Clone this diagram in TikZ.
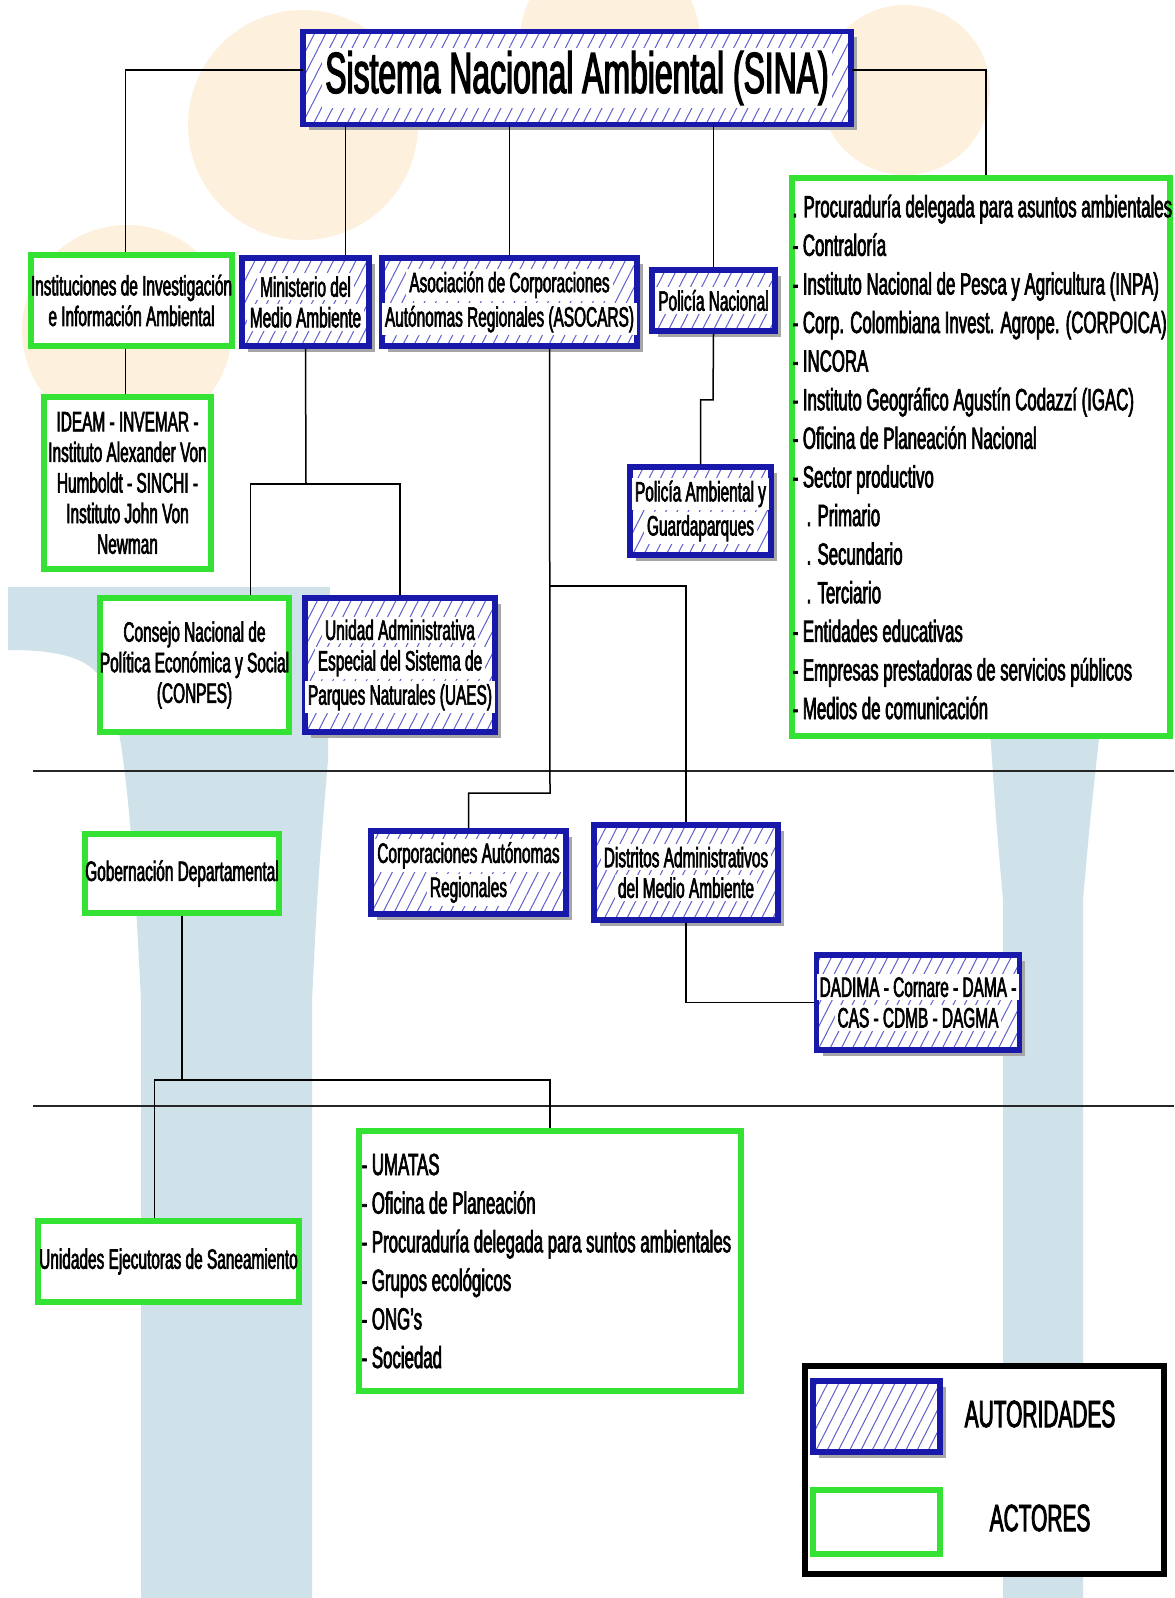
\documentclass[tikz,border=0pt]{standalone}
\usepackage{fontspec}
\setmainfont{Liberation Sans}[FakeStretch=0.55, FakeBold=2.2]
\usetikzlibrary{patterns.meta,shadows}
\definecolor{authblue}{RGB}{24,24,170}
\definecolor{hatchblue}{RGB}{95,95,205}
\definecolor{actgreen}{RGB}{52,226,52}
\definecolor{wmorange}{RGB}{253,241,222}
\definecolor{wmblue}{RGB}{207,226,234}
\newcommand{\wl}[1]{{\setlength{\fboxsep}{1.5pt}\colorbox{white}{#1}}}
\newcommand{\boxfont}{\fontsize{14pt}{15.3pt}\selectfont}
\newcommand{\listfont}{\fontsize{15.3pt}{19.3pt}\selectfont}
\newcommand{\titlefont}{\fontsize{29pt}{30pt}\selectfont}
\newcommand{\legfont}{\fontsize{19pt}{20pt}\selectfont}

\begin{document}
\begin{tikzpicture}[x=0.5pt, y=-0.5pt,
    auth/.style 2 args={draw=authblue, line width=2.8pt, minimum width=#1*0.5pt, minimum height=#2*0.5pt,
      inner sep=0pt, align=center, font=\boxfont,
      drop shadow={shadow xshift=3pt, shadow yshift=-3pt, fill=gray!70, opacity=1},
      preaction={fill=white}, pattern={Lines[angle=63, distance=5pt, line width=0.5pt]}, pattern color=hatchblue},
    actor/.style 2 args={draw=actgreen, line width=2.8pt, fill=white, minimum width=#1*0.5pt, minimum height=#2*0.5pt,
      inner sep=0pt, align=center, font=\boxfont},
    listtext/.style={font=\listfont, align=left, anchor=west, inner sep=0pt},
    link/.style={line width=0.75pt},
    sepline/.style={line width=1.2pt, black!85}]
  \useasboundingbox[fill=white] (0,0) rectangle (1174,1598);

  % watermark
  \fill[wmorange] (303,125) circle (115);
  \fill[wmorange] (127,330) circle (105);
  \fill[wmorange] (610,40) circle (90);
  \fill[wmorange] (905,90) circle (85);
  \fill[wmblue] (8,587) -- (330,587) -- (328,760) .. controls (318,880) .. (312,1000) -- (312,1598) -- (141,1598)
    -- (141,1000) .. controls (134,860) and (125,700) .. (100,677) .. controls (85,655) and (50,650) .. (8,650) -- cycle;
  \fill[wmblue] (990,730) -- (1100,730) .. controls (1090,820) .. (1083,900) -- (1083,1598) -- (1003,1598)
    -- (1003,900) .. controls (996,820) .. (990,730) -- cycle;

  \draw[sepline] (33,771) -- (1174,771);
  \draw[sepline] (33,1106) -- (1174,1106);

  \node[auth={548}{93}, font=\titlefont] (sina) at (577,78) {\wl{Sistema Nacional Ambiental (SINA)}};
  \node[actor={195}{91}] (inst) at (131.5,300.5) {Instituciones de Investigación\\e Información Ambiental};
  \node[auth={127}{88}] (min) at (305.5,302) {\wl{Ministerio del}\\\wl{Medio Ambiente}};
  \node[auth={249}{88}] (aso) at (509.5,302) {\wl{Asociación de Corporaciones}\\\wl{Autónomas Regionales (ASOCARS)}};
  \node[auth={123}{61}] (pnac) at (713.5,300.5) {\wl{Policía Nacional}};
  \node[actor={378}{558}] (acts) at (981,457) {};
  \node[listtext] (acts-t) at ([xshift=1.5pt]acts.west) {. Procuraduría delegada para asuntos ambientales\\
    - Contraloría\\- Instituto Nacional de Pesca y Agricultura (INPA)\\- Corp. Colombiana Invest. Agrope. (CORPOICA)\\
    - INCORA\\- Instituto Geográfico Agustín Codazzí (IGAC)\\- Oficina de Planeación Nacional\\- Sector productivo\\
    \hspace{7pt}. Primario\\\hspace{7pt}. Secundario\\\hspace{7pt}. Terciario\\- Entidades educativas\\
    - Empresas prestadoras de servicios públicos\\- Medios de comunicación};
  \node[actor={167}{172}] (ideam) at (127.5,483) {IDEAM - INVEMAR -\\Instituto Alexander Von\\Humboldt - SINCHI -\\Instituto John Von\\Newman};
  \node[actor={181}{134}] (conpes) at (194.5,665) {Consejo Nacional de\\Política Económica y Social\\(CONPES)};
  \node[auth={180}{134}] (uaes) at (400,665) {\wl{Unidad Administrativa}\\\wl{Especial del Sistema de}\\\wl{Parques Naturales (UAES)}};
  \node[auth={141}{88}] (pamb) at (700.5,511) {\wl{Policía Ambiental y}\\\wl{Guardaparques}};

  \node[actor={186}{79}] (gob) at (182,873.5) {Gobernación Departamental};
  \node[auth={195}{83}] (corp) at (468.5,872.5) {\wl{Corporaciones Autónomas}\\\wl{Regionales}};
  \node[auth={184}{95}] (dist) at (686,872.5) {\wl{Distritos Administrativos}\\\wl{del Medio Ambiente}};
  \node[auth={182}{95}] (dadima) at (918,1002.5) {\wl{DADIMA - Cornare - DAMA -}\\\wl{CAS - CDMB - DAGMA}};

  \node[actor={261}{81}] (unid) at (168.5,1261.5) {Unidades Ejecutoras de Saneamiento};
  \node[actor={382}{260}] (mun) at (550,1261) {};
  \node[listtext] (mun-t) at ([xshift=2.5pt]mun.west) {- UMATAS\\- Oficina de Planeación\\
    - Procuraduría delegada para suntos ambientales\\- Grupos ecológicos\\- ONG's\\- Sociedad};

  \node[draw, line width=2.8pt, fill=white, minimum width=179.5pt, minimum height=104pt] (leg) at (984.5,1470) {};
  \node[auth={127}{71}] (lega) at (876.5,1416.5) {};
  \node[actor={127}{64}] (legb) at (876.5,1522) {};
  \node[font=\legfont] (lega-t) at (1040,1414) {AUTORIDADES};
  \node[font=\legfont] (legb-t) at (1040,1518) {ACTORES};

  \coordinate (mj) at (306,484);
  \coordinate (aj) at (550,586);
  \coordinate (ak) at (550,793);
  \coordinate (pj) at (713,400);
  \coordinate (gj) at (182,1080);

  \draw[link] ([yshift=4pt]sina.west) -| ([xshift=-3pt]inst.north);
  \draw[link] ([yshift=4pt]sina.east) -| ([xshift=2.5pt]acts.north);
  \draw[link] ([xshift=20pt]min.north) -- ([xshift=20pt]min.north |- sina.south);
  \draw[link] (aso.north) -- (aso.north |- sina.south);
  \draw[link] (pnac.north) -- (pnac.north |- sina.south);
  \draw[link] ([xshift=-3pt]inst.south) -- ([xshift=-3pt]inst.south |- ideam.north);
  \draw[link] (min.south) -- (mj);
  \draw[link] ([xshift=28pt]conpes.north) |- (mj) -| (uaes.north);
  \draw[link] ([xshift=20pt]aso.south) -- (ak) -| (corp.north);
  \draw[link] (aj) -| (dist.north);
  \draw[link] (pnac.south) -- (pj) -| (pamb.north);
  \draw[link] (dist.south) |- (dadima.west);
  \draw[link] (gob.south) -- (gj);
  \draw[link] ([xshift=-7pt]unid.north) |- (gj) -| (mun.north);
\end{tikzpicture}
\end{document}
